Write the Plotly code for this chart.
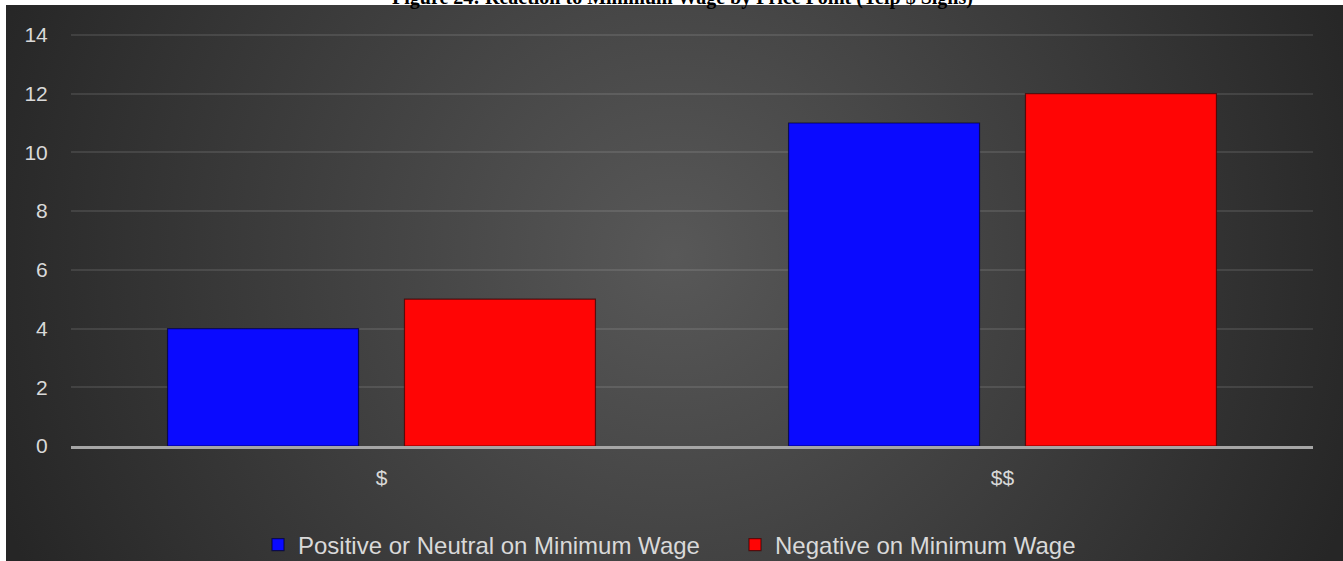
import base64
import plotly.graph_objects as go

# Chart data
price_points = ["$", "$$"]
positive_or_neutral = [4, 11]
negative = [5, 12]
series_names = ["Positive or Neutral on Minimum Wage", "Negative on Minimum Wage"]
y_ticks = [0, 2, 4, 6, 8, 10, 12, 14]
title_text = "Figure 24: Reaction to Minimum Wage by Price Point (Yelp $ Signs)"

W, H = 1343, 561
L, R, T, B = 71, 30, 32, 115
plot_w = W - L - R
plot_h = H - T - B
y_top = 14.1  # a little headroom above 14 so the top gridline is drawn


def px_x(px):
    return (px - L) / plot_w


def px_y(py):
    return (H - B - py) / plot_h


# Dark panel with a soft radial glow behind the chart
panel_x0, panel_y0 = 6, 5
panel_w, panel_h = W - panel_x0, H - panel_y0
svg = f"""<svg xmlns='http://www.w3.org/2000/svg' width='{panel_w}' height='{panel_h}' viewBox='0 0 {panel_w} {panel_h}'>
<defs><radialGradient id='g' gradientUnits='userSpaceOnUse' cx='{panel_w*0.5}' cy='{panel_h*0.45}' r='720'>
<stop offset='0' stop-color='#585858'/><stop offset='1' stop-color='#262626'/></radialGradient></defs>
<rect x='0' y='0' width='{panel_w}' height='{panel_h}' fill='url(#g)'/></svg>"""
svg_uri = "data:image/svg+xml;base64," + base64.b64encode(svg.encode()).decode()

fig = go.Figure()
fig.add_trace(go.Bar(
    x=price_points, y=positive_or_neutral, name=series_names[0],
    marker=dict(color="#0a0aff", line=dict(color="rgba(0,0,50,0.7)", width=1.2)),
))
fig.add_trace(go.Bar(
    x=price_points, y=negative, name=series_names[1],
    marker=dict(color="#ff0505", line=dict(color="rgba(60,0,0,0.7)", width=1.2)),
))

fig.add_layout_image(dict(
    source=svg_uri, xref="paper", yref="paper",
    x=px_x(panel_x0), y=px_y(panel_y0),
    sizex=panel_w / plot_w, sizey=panel_h / plot_h,
    xanchor="left", yanchor="top", sizing="stretch", layer="below",
))

fig.add_annotation(
    text=f"<b>{title_text}</b>", xref="paper", yref="paper",
    x=px_x(682), y=px_y(35), xanchor="center", yanchor="middle", yshift=38,
    showarrow=False, font=dict(family="Liberation Serif", size=20, color="#000000"),
)

tick_font = dict(family="Liberation Sans, Arial", size=21, color="#d9d9d9")

fig.update_layout(
    width=W, height=H,
    margin=dict(l=L, r=R, t=T, b=B, autoexpand=False),
    paper_bgcolor="#ffffff",
    plot_bgcolor="rgba(0,0,0,0)",
    barmode="group",
    bargap=0.237,
    bargroupgap=0.194,
    showlegend=True,
    legend=dict(
        orientation="h", x=px_x(735), xanchor="center", y=px_y(545), yanchor="middle",
        font=dict(family="Liberation Sans, Arial", size=24, color="#d9d9d9"),
        bgcolor="rgba(0,0,0,0)", entrywidth=432, itemwidth=30,
    ),
    xaxis=dict(
        tickfont=tick_font, showgrid=False, showline=True,
        linecolor="#a6a6a6", linewidth=2.5, ticks="outside", ticklen=11,
        tickcolor="rgba(0,0,0,0)",
    ),
    yaxis=dict(
        range=[0, y_top], tickvals=y_ticks, tickfont=tick_font,
        showgrid=True, gridcolor="rgba(255,255,255,0.1)", gridwidth=2,
        zeroline=False, showline=False, ticks="outside", ticklen=18,
        tickcolor="rgba(0,0,0,0)",
    ),
)

fig.write_html("out.html")
